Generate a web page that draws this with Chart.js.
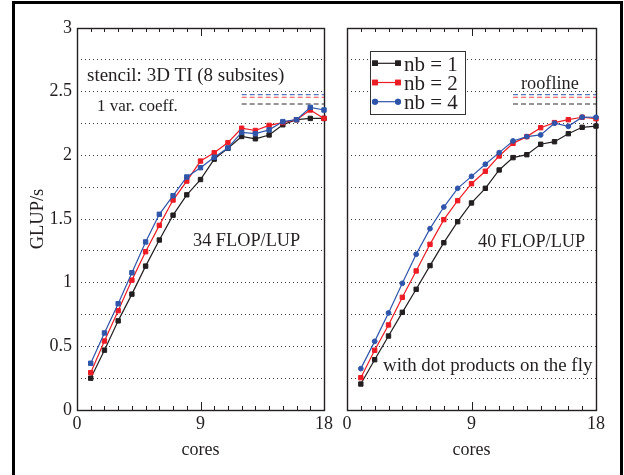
<!DOCTYPE html>
<html><head><meta charset="utf-8">
<script src="https://cdn.jsdelivr.net/npm/chart.js@4"></script>
<style>
html,body{margin:0;padding:0;background:#fff;}
#wrap{position:relative;width:624px;height:475px;overflow:hidden;background:#fff;}
#frame{position:absolute;left:12px;top:1px;width:605px;height:490px;border:3px solid #000;border-bottom:none;pointer-events:none;z-index:5;}
canvas{position:absolute;top:0;}
#cL{left:0;}
#cR{left:336px;}
</style></head>
<body>
<div id="wrap">
<canvas id="cL" width="336" height="475"></canvas>
<canvas id="cR" width="288" height="475"></canvas>
<div id="frame"></div>
</div>
<script>
// ---------------- data ----------------
const cores = [1,2,3,4,5,6,7,8,9,10,11,12,13,14,15,16,17,18];
const seriesLabels = ['nb = 1','nb = 2','nb = 4'];
const xTickValues = [0, 9, 18];
const yTickLabelValues = [0, 0.5, 1, 1.5, 2, 2.5, 3];

// left panel: stencil 3D TI, 34 FLOP/LUP
const left_nb1 = [0.25,0.47,0.70,0.91,1.13,1.335,1.53,1.69,1.81,1.97,2.055,2.148,2.13,2.16,2.24,2.28,2.29,2.29];
const left_nb2 = [0.293,0.542,0.78,1.02,1.243,1.45,1.649,1.798,1.955,2.02,2.10,2.213,2.195,2.235,2.257,2.28,2.356,2.29];
const left_nb4 = [0.367,0.605,0.835,1.078,1.32,1.537,1.683,1.83,1.903,1.985,2.058,2.18,2.17,2.20,2.265,2.28,2.377,2.356];

// right panel: with dot products on the fly, 40 FLOP/LUP
const right_nb1 = [0.204,0.395,0.581,0.767,0.948,1.134,1.314,1.479,1.626,1.741,1.885,1.982,2.005,2.087,2.107,2.17,2.22,2.23];
const right_nb2 = [0.254,0.469,0.668,0.885,1.092,1.301,1.495,1.644,1.777,1.875,1.995,2.094,2.147,2.217,2.257,2.28,2.299,2.288];
const right_nb4 = [0.325,0.539,0.762,0.995,1.223,1.424,1.594,1.741,1.835,1.93,2.021,2.113,2.147,2.16,2.252,2.228,2.30,2.299];

// roofline (dashed) levels, per nb, drawn from core 12 to 18
const rooflineCores = [12, 18];
const roofline = [2.403, 2.456, 2.477];

// ---------------- styles ----------------
const INK = '#231f20';
const FONT = "'Liberation Serif','Times New Roman',serif";
const colors = ['#231f20','#ed1c24','#2f55aa'];
const roofColors = ['rgba(35,31,32,0.95)','rgba(237,28,36,0.8)','rgba(47,85,170,0.8)'];
const drawOrder = [3, 2, 1];

function pts(values){ return cores.map((c,i)=>({x:c, y:values[i]})); }
function roofPts(v){ return rooflineCores.map(c=>({x:c, y:v})); }

function buildDatasets(vals, styles){
  const ds = [];
  vals.forEach((v,i)=>{
    ds.push({label: seriesLabels[i], data: pts(v), borderColor: colors[i],
      backgroundColor: colors[i], pointBackgroundColor: colors[i], pointBorderColor: colors[i],
      pointStyle: styles[i], pointRadius: styles[i]==='circle'?2.4:3.1, pointBorderWidth: 1,
      borderWidth: 1.2, tension: 0, clip: false, order: drawOrder[i], inLegend: true});
  });
  roofline.forEach((r,i)=>{
    ds.push({label: 'roofline ' + seriesLabels[i], data: roofPts(r), borderColor: roofColors[i],
      borderDash: [5,3], borderWidth: 1.1, pointRadius: 0, clip: false, order: 10});
  });
  return ds;
}

const frameTicks = {
  id: 'frameTicks',
  beforeDatasetsDraw(chart){
    const {ctx, chartArea: a, scales: {x}} = chart;
    ctx.save();
    ctx.strokeStyle = INK; ctx.lineWidth = 1;
    for (let v = 1; v < 18; v++){
      const px = Math.round(x.getPixelForValue(v)) + 0.5;
      const len = (v === 9) ? 8 : 4;
      ctx.beginPath();
      ctx.moveTo(px, a.bottom); ctx.lineTo(px, a.bottom - len);
      ctx.moveTo(px, a.top); ctx.lineTo(px, a.top + len);
      ctx.stroke();
    }
    ctx.lineWidth = 1.4;
    ctx.strokeRect(Math.round(a.left)+0.5, Math.round(a.top)+0.5, Math.round(a.right-a.left), Math.round(a.bottom-a.top));
    ctx.restore();
  }
};

const notes = {
  id: 'notes',
  afterDraw(chart, args, opts){
    const ctx = chart.ctx;
    ctx.save();
    ctx.fillStyle = INK; ctx.textBaseline = 'alphabetic'; ctx.textAlign = 'left';
    (opts.items || []).forEach(it=>{
      ctx.font = it.size + 'px ' + FONT;
      ctx.fillText(it.text, it.x, it.y);
    });
    const lg = opts.legend;
    if (lg){
      ctx.fillStyle = '#fff';
      ctx.fillRect(lg.x, lg.y, lg.w, lg.h);
      ctx.strokeStyle = '#333'; ctx.lineWidth = 1;
      ctx.strokeRect(lg.x + 0.5, lg.y + 0.5, lg.w, lg.h);
      const items = chart.data.datasets.filter(d=>d.inLegend);
      items.forEach((d,i)=>{
        const cy = lg.y + lg.first + i*lg.step;
        ctx.strokeStyle = d.borderColor; ctx.lineWidth = 1.2;
        ctx.beginPath(); ctx.moveTo(lg.x + lg.l0, cy); ctx.lineTo(lg.x + lg.l1, cy); ctx.stroke();
        [lg.l0, lg.l1].forEach(px=>{
          Chart.helpers.drawPoint(ctx, {pointStyle: d.pointStyle, radius: d.pointRadius, borderWidth: 1, rotation: 0},
            lg.x + px, cy);
          ctx.fillStyle = d.pointBackgroundColor; ctx.fill();
          ctx.strokeStyle = d.pointBorderColor; ctx.stroke();
        });
        ctx.fillStyle = INK;
        ctx.font = lg.size + 'px ' + FONT;
        ctx.fillText(d.label, lg.x + lg.tx, cy + 7.3);
      });
    }
    ctx.restore();
  }
};

function makeChart(id, cfg){
  return new Chart(document.getElementById(id), {
    type: 'line',
    data: {datasets: cfg.datasets},
    plugins: [frameTicks, notes],
    options: {
      responsive: false, animation: false, devicePixelRatio: 1,
      layout: {padding: {left: 0, right: cfg.padRight, top: 28, bottom: 0}},
      plugins: {legend: {display: false}, tooltip: {enabled: false}, notes: cfg.notes},
      scales: {
        x: {type: 'linear', min: 0, max: 18, position: 'bottom',
          afterFit(s){ s.height = 65; },
          afterBuildTicks(s){ s.ticks = xTickValues.map(v=>({value: v})); },
          grid: {display: false, drawTicks: false}, border: {display: false},
          ticks: {padding: 3, color: INK, font: {family: FONT, size: 18}, maxRotation: 0, autoSkip: false},
          title: {display: true, text: 'cores', color: INK, font: {family: FONT, size: 18}, padding: {top: 0, bottom: 14}}},
        y: {type: 'linear', min: 0, max: 3,
          afterFit(s){ s.width = cfg.yWidth; },
          grid: {color: '#3a3a3a', lineWidth: 1, drawTicks: false},
          border: {display: false, dash: [1,3]},
          ticks: {stepSize: 0.25, padding: 5, color: INK, autoSkip: false, font: {family: FONT, size: 18},
            callback: (v)=> (cfg.showY && yTickLabelValues.includes(v)) ? String(v) : ''},
          title: {display: cfg.showY, text: 'GLUP/s', color: INK, font: {family: FONT, size: 18.5}, padding: {top: 27, bottom: 0}}}
      }
    }
  });
}

makeChart('cL', {
  datasets: buildDatasets([left_nb1, left_nb2, left_nb4], ['rect','rect','rect']),
  padRight: 11, yWidth: 77, showY: true,
  notes: {items: [
    {text: 'stencil: 3D TI (8 subsites)', x: 87, y: 81, size: 19},
    {text: '1 var. coeff.', x: 97, y: 111, size: 17},
    {text: '34 FLOP/LUP', x: 193, y: 246, size: 18.3}
  ]}
});

makeChart('cR', {
  datasets: buildDatasets([right_nb1, right_nb2, right_nb4], ['rect','rect','circle']),
  padRight: 28, yWidth: 11, showY: false,
  notes: {items: [
    {text: 'roofline', x: 185, y: 89, size: 18.3},
    {text: '40 FLOP/LUP', x: 142, y: 246.5, size: 18.3},
    {text: 'with dot products on the fly', x: 47, y: 371, size: 18.9}
  ],
  legend: {x: 34, y: 51, w: 95, h: 63, first: 12.3, step: 19.2, l0: 5, l1: 28, tx: 34, size: 21}}
});
</script>
</body></html>
